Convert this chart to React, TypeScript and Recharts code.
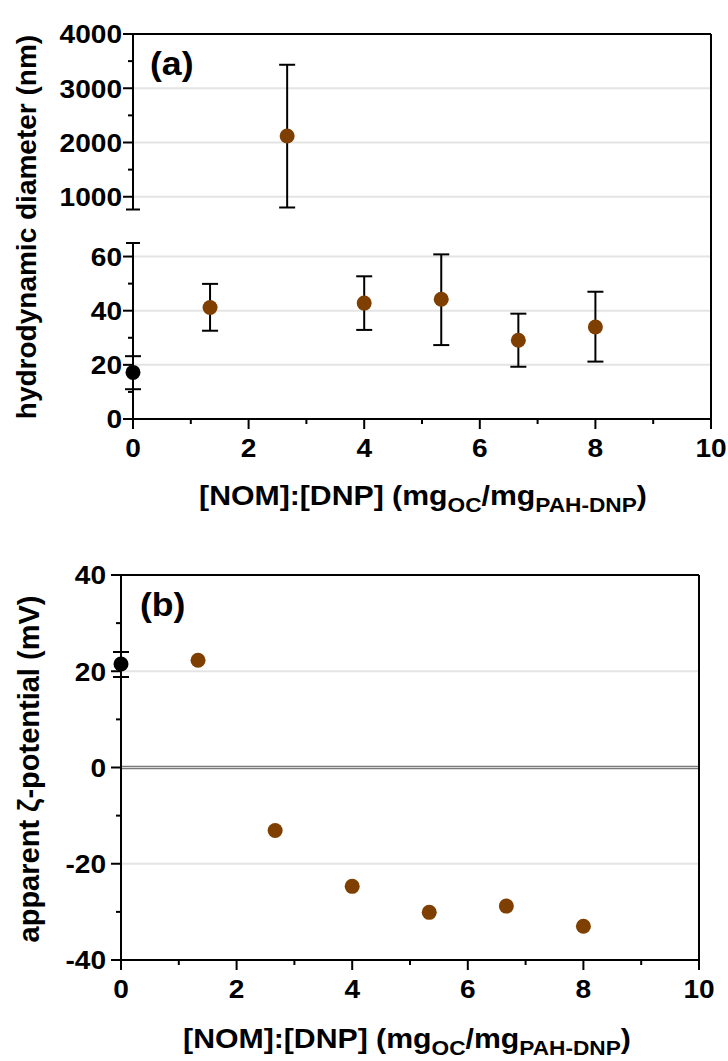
import React from 'react';
import { ScatterChart, Scatter, XAxis, YAxis, ErrorBar, ReferenceLine } from 'recharts';

// ---------- data ----------
const xTickValues = [0, 1, 2, 3, 4, 5, 6, 7, 8, 9, 10];
const xTickLabels = [0, 2, 4, 6, 8, 10];

const nomRatio = [1.333, 2.667, 4, 5.333, 6.667, 8];

// Panel (a): hydrodynamic diameter (nm)
const controlDiameter = 17.2;
const controlDiameterErr = [6.2, 6.0];
const diameterNom = [41.2, 2120, 42.8, 44.2, 29.1, 34.0];
const diameterErrLow = [8.6, 1318, 9.9, 16.9, 9.8, 12.8];
const diameterErrHigh = [8.7, 1313, 9.9, 16.6, 9.8, 13.0];

const lowerTicks = [0, 10, 20, 30, 40, 50, 60, 65];
const lowerMajor = [0, 20, 40, 60];
const lowerGrid = [20, 40, 60];
const upperTicks = [765, 1000, 1500, 2000, 2500, 3000, 3500, 4000];
const upperMajor = [1000, 2000, 3000, 4000];
const upperGrid = [1000, 2000, 3000];

// Panel (b): apparent zeta potential (mV)
const controlZeta = 21.5;
const controlZetaErr = [2.7, 2.5];
const zetaNom = [22.3, -13.1, -24.7, -30.1, -28.8, -33.0];

const zetaTicks = [-40, -30, -20, -10, 0, 10, 20, 30, 40];
const zetaMajor = [-40, -20, 0, 20, 40];
const zetaGrid = [-20, 20];

// ---------- derived tables ----------
const LOW_MAX = 65;
const controlA = [{ x: 0, y: controlDiameter, err: controlDiameterErr }];
const nomA = nomRatio.map((x, i) => ({ x, y: diameterNom[i], err: [diameterErrLow[i], diameterErrHigh[i]] }));
const nomALow = nomA.filter((d) => d.y <= LOW_MAX);
const nomAHigh = nomA.filter((d) => d.y > LOW_MAX);
const controlB = [{ x: 0, y: controlZeta, err: controlZetaErr }];
const nomB = nomRatio.map((x, i) => ({ x, y: zetaNom[i] }));

// ---------- style ----------
const FONT = '"Liberation Sans", Arial, Helvetica, sans-serif';
const BROWN = '#7f3f00';
const GRID = '#e4e4e4';
const SX = 1.08; // horizontal stretch of the lettering

const dot = (color: string) => (p: any) => <circle cx={p.cx} cy={p.cy} r={7.5} fill={color} />;

const makeYTick = (majors: number[], breakVal: number | null, gap: number) => (props: any) => {
  const { x, y, payload } = props;
  const v = payload.value;
  if (breakVal !== null && v === breakVal) {
    return <line x1={x - 7} x2={x + 7} y1={y} y2={y} stroke="#000" strokeWidth={2} />;
  }
  const major = majors.includes(v);
  return (
    <g>
      <line x1={x - (major ? 10 : 5)} x2={x} y1={y} y2={y} stroke="#000" strokeWidth={2} />
      {major && (
        <text
          transform={`translate(${x - gap},${y}) scale(${SX},1)`}
          dy="0.36em"
          textAnchor="end"
          fontSize={26}
          fontWeight="bold"
          fontFamily={FONT}
          fill="#000"
        >
          {v}
        </text>
      )}
    </g>
  );
};

const makeXTick = () => (props: any) => {
  const { x, y, payload } = props;
  const v = payload.value;
  const major = xTickLabels.includes(v);
  return (
    <g>
      <line x1={x} x2={x} y1={y} y2={y + (major ? 10 : 5)} stroke="#000" strokeWidth={2} />
      {major && (
        <text
          transform={`translate(${x},${y + 38}) scale(${SX},1)`}
          textAnchor="middle"
          fontSize={26}
          fontWeight="bold"
          fontFamily={FONT}
          fill="#000"
        >
          {v}
        </text>
      )}
    </g>
  );
};

const axisLine = { stroke: '#000', strokeWidth: 2 };

const XTitle = ({ cx, y }: { cx: number; y: number }) => (
  <g transform={`translate(${cx},${y}) scale(${SX},1)`}>
    <text x={0} y={0} textAnchor="middle" fontSize={28} fontWeight="bold" fontFamily={FONT} fill="#000">
      [NOM]:[DNP] (mg
      <tspan fontSize={21} dy={7}>OC</tspan>
      <tspan dy={-7}>/mg</tspan>
      <tspan fontSize={21} dy={7}>PAH-DNP</tspan>
      <tspan dy={-7}>)</tspan>
    </text>
  </g>
);

export default function App() {
  return (
    <div style={{ position: 'absolute', left: 0, top: 0, width: 728, height: 1061, background: '#fff' }}>
      {/* Panel (a) upper segment */}
      <div style={{ position: 'absolute', left: 0, top: 0 }}>
        <ScatterChart width={728} height={212} margin={{ top: 34, right: 17, bottom: 2.5, left: 0 }}>
          <XAxis type="number" dataKey="x" domain={[0, 10]} hide />
          <YAxis
            type="number"
            dataKey="y"
            domain={[765, 4000]}
            ticks={upperTicks}
            interval={0}
            width={133}
            tickSize={0}
            tickMargin={0}
            tickLine={false}
            axisLine={axisLine}
            tick={makeYTick(upperMajor, 765, 11)}
            allowDataOverflow
          />
          {upperGrid.map((g) => (
            <ReferenceLine key={g} y={g} stroke={GRID} strokeWidth={2} />
          ))}
          <ReferenceLine y={4000} stroke="#000" strokeWidth={2} />
          <ReferenceLine x={10} stroke="#000" strokeWidth={2} />
          <Scatter data={nomAHigh} shape={dot(BROWN)} isAnimationActive={false}>
            <ErrorBar dataKey="err" direction="y" width={8} stroke="#000" strokeWidth={2} isAnimationActive={false} />
          </Scatter>
        </ScatterChart>
      </div>

      {/* Panel (a) lower segment */}
      <div style={{ position: 'absolute', left: 0, top: 205 }}>
        <ScatterChart width={728} height={264} margin={{ top: 38, right: 17, bottom: 0, left: 0 }}>
          <XAxis
            type="number"
            dataKey="x"
            domain={[0, 10]}
            ticks={xTickValues}
            interval={0}
            height={50}
            tickSize={0}
            tickMargin={0}
            tickLine={false}
            axisLine={axisLine}
            tick={makeXTick()}
          />
          <YAxis
            type="number"
            dataKey="y"
            domain={[0, LOW_MAX]}
            ticks={lowerTicks}
            interval={0}
            width={133}
            tickSize={0}
            tickMargin={0}
            tickLine={false}
            axisLine={axisLine}
            tick={makeYTick(lowerMajor, LOW_MAX, 11)}
            allowDataOverflow
          />
          {lowerGrid.map((g) => (
            <ReferenceLine key={g} y={g} stroke={GRID} strokeWidth={2} />
          ))}
          <ReferenceLine
            segment={[{ x: 10, y: 0 }, { x: 10, y: 77.6 }]}
            ifOverflow="visible"
            stroke="#000"
            strokeWidth={2}
          />
          <Scatter data={nomALow} shape={dot(BROWN)} isAnimationActive={false}>
            <ErrorBar dataKey="err" direction="y" width={8} stroke="#000" strokeWidth={2} isAnimationActive={false} />
          </Scatter>
          <Scatter data={controlA} shape={dot('#000')} isAnimationActive={false}>
            <ErrorBar dataKey="err" direction="y" width={8} stroke="#000" strokeWidth={2} isAnimationActive={false} />
          </Scatter>
        </ScatterChart>
      </div>

      {/* Panel (b) */}
      <div style={{ position: 'absolute', left: 0, top: 545 }}>
        <ScatterChart width={728} height={465} margin={{ top: 30, right: 29, bottom: 0, left: 0 }}>
          <XAxis
            type="number"
            dataKey="x"
            domain={[0, 10]}
            ticks={xTickValues}
            interval={0}
            height={50}
            tickSize={0}
            tickMargin={0}
            tickLine={false}
            axisLine={axisLine}
            tick={makeXTick()}
          />
          <YAxis
            type="number"
            dataKey="y"
            domain={[-40, 40]}
            ticks={zetaTicks}
            interval={0}
            width={121}
            tickSize={0}
            tickMargin={0}
            tickLine={false}
            axisLine={axisLine}
            tick={makeYTick(zetaMajor, null, 15)}
          />
          {zetaGrid.map((g) => (
            <ReferenceLine key={g} y={g} stroke={GRID} strokeWidth={2} />
          ))}
          <ReferenceLine y={0} stroke="#7a7a7a" strokeWidth={3.5} />
          <ReferenceLine y={0} stroke="#d8d8d8" strokeWidth={1} />
          <ReferenceLine y={40} stroke="#000" strokeWidth={2} />
          <ReferenceLine x={10} stroke="#000" strokeWidth={2} />
          <Scatter data={nomB} shape={dot(BROWN)} isAnimationActive={false} />
          <Scatter data={controlB} shape={dot('#000')} isAnimationActive={false}>
            <ErrorBar dataKey="err" direction="y" width={8} stroke="#000" strokeWidth={2} isAnimationActive={false} />
          </Scatter>
        </ScatterChart>
      </div>

      {/* titles and labels */}
      <svg width={728} height={1061} style={{ position: 'absolute', left: 0, top: 0, pointerEvents: 'none' }}>
        <g transform={`translate(150,75) scale(${SX},1)`}>
          <text x={0} y={0} fontSize={33} fontWeight="bold" fontFamily={FONT} fill="#000">(a)</text>
        </g>
        <g transform={`translate(140,616) scale(${SX},1)`}>
          <text x={0} y={0} fontSize={33} fontWeight="bold" fontFamily={FONT} fill="#000">(b)</text>
        </g>
        <text
          transform="translate(36,227) rotate(-90)"
          textAnchor="middle"
          fontSize={28}
          fontWeight="bold"
          fontFamily={FONT}
          fill="#000"
        >
          hydrodynamic diameter (nm)
        </text>
        <text
          transform="translate(39,769) rotate(-90)"
          textAnchor="middle"
          fontSize={29}
          fontWeight="bold"
          fontFamily={FONT}
          fill="#000"
        >
          apparent ζ-potential (mV)
        </text>
        <XTitle cx={423} y={505} />
        <XTitle cx={407} y={1048} />
      </svg>
    </div>
  );
}
